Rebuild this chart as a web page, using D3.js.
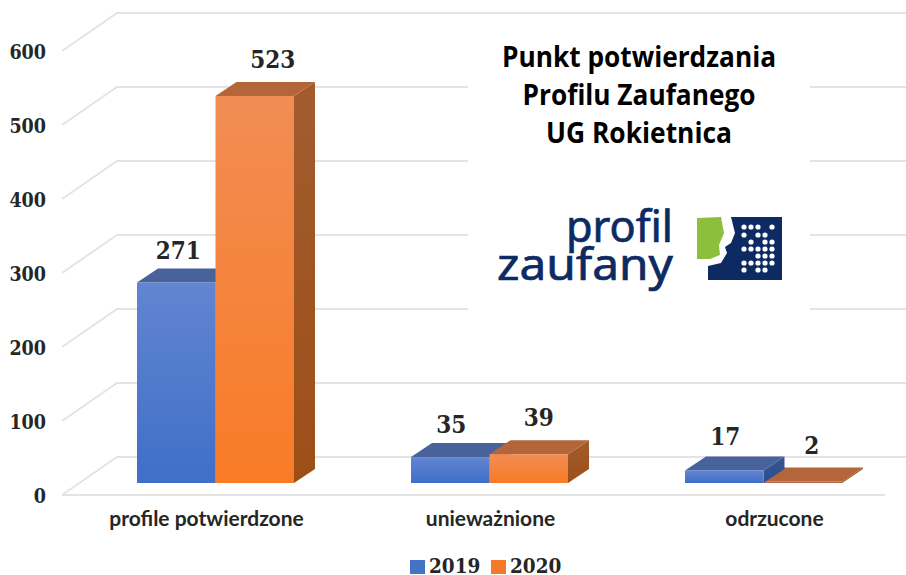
<!DOCTYPE html>
<html>
<head>
<meta charset="utf-8">
<script src="https://cdn.jsdelivr.net/npm/d3@7"></script>
<style>
  html, body { margin: 0; padding: 0; background: #fff; }
  svg { display: block; }
  .num { font-family: "DejaVu Serif", serif; font-weight: 700; font-stretch: condensed; fill: #262626; }
  .cat { font-family: Lato, sans-serif; font-weight: 700; fill: #262626; }
  .title { font-family: "Open Sans", sans-serif; font-weight: 700; fill: #000; }
</style>
</head>
<body>
<div id="chart"></div>
<script>
// Chart data
const categories = ["profile potwierdzone", "unieważnione", "odrzucone"];
const years = ["2019", "2020"];
const values2019 = [271, 35, 17];
const values2020 = [523, 39, 2];
const yTicks = [0, 100, 200, 300, 400, 500, 600];
const titleLines = ["Punkt potwierdzania", "Profilu Zaufanego", "UG Rokietnica"];
const titleWidths = [274, 233, 186];

const width = 906;
const height = 575;

const svg = d3.select("#chart").append("svg").attr("width", width).attr("height", height);

// Scales: yFloor is the front edge of the floor, yBar is where the bars stand
const yFloor = d3.scaleLinear().domain([0, 600]).range([495, 51]);
const yBar = d3.scaleLinear().domain([0, 600]).range([483, 39]);
const xGroup = d3.scaleBand().domain(categories).range([137, 959]);
const xBar = d3.scaleBand().domain(years).range([0, 157]);
const xLabel = d3.scalePoint().domain(categories).range([206, 774]);

const wallDx = 55, wallDy = -38; // depth of the chart walls
const barDx = 21, barDy = -14; // depth of one bar

const defs = svg.append("defs");
function addGradient(id, top, bottom) {
  const g = defs.append("linearGradient").attr("id", id).attr("x1", 0).attr("y1", 0).attr("x2", 0).attr("y2", 1);
  g.append("stop").attr("offset", "0%").attr("stop-color", top);
  g.append("stop").attr("offset", "100%").attr("stop-color", bottom);
}
addGradient("front2019", "#6285d0", "#3f6fc9");
addGradient("front2020", "#f18d54", "#f97b26");
addGradient("side2019", "#35548f", "#2b4f93");
addGradient("side2020", "#a25c30", "#9d4f17");

const barColors = {
  2019: { front: "url(#front2019)", side: "url(#side2019)", top: "#48639b" },
  2020: { front: "url(#front2020)", side: "url(#side2020)", top: "#b5653a" }
};

// Grid lines on the back wall and the side wall
const grid = svg.append("g").attr("stroke", "#e4e4e4").attr("stroke-width", 2).attr("fill", "none");
yTicks.forEach((t) => {
  const y = yFloor(t);
  grid.append("path").attr("d", `M62,${y}L${62 + wallDx},${y + wallDy}L906,${y + wallDy}`);
});
grid.append("line").attr("x1", 62).attr("x2", 885).attr("y1", yFloor(0)).attr("y2", yFloor(0));

// White panel under the title and logo
svg.append("rect").attr("x", 468).attr("y", 30).attr("width", 342).attr("height", 290).attr("fill", "#fff");

// Y axis
const yAxis = svg.append("g")
  .attr("transform", "translate(52,0)")
  .call(d3.axisLeft(yFloor).tickValues(yTicks).tickSize(0).tickFormat(d3.format("d")));
yAxis.select(".domain").remove();
yAxis.selectAll("text").attr("class", "num").attr("font-size", 19.5).attr("dy", "0.36em").attr("x", -6);

// X axis labels
const xAxis = svg.append("g")
  .attr("transform", "translate(0,526)")
  .call(d3.axisBottom(xLabel).tickSize(0));
xAxis.select(".domain").remove();
xAxis.selectAll("text").attr("class", "cat").attr("font-size", 21).attr("y", 0).attr("dy", 0);

// Bars, shorter one first in each group so the taller one overlaps it
const labelNudge = { 2019: [2, 1, 1], 2020: [18, 10, 9] };
const labelGap = { 2019: [9, 10, 11], 2020: [14, 14, 14] };
const rows = categories.map((c, i) => {
  const pair = [
    { cat: c, i, year: "2019", value: values2019[i] },
    { cat: c, i, year: "2020", value: values2020[i] }
  ];
  return pair.sort((a, b) => a.value - b.value);
});

const bars = svg.append("g");
rows.forEach((pair) => {
  pair.forEach((d) => {
    const x0 = xGroup(d.cat) + xBar(d.year);
    const x1 = x0 + xBar.bandwidth();
    const yTop = yBar(d.value);
    const yBase = yBar(0);
    const c = barColors[d.year];
    const g = bars.append("g").attr("class", "bar");
    g.append("path").attr("fill", c.side)
      .attr("d", `M${x1},${yTop}L${x1 + barDx},${yTop + barDy}L${x1 + barDx},${yBase + barDy}L${x1},${yBase}Z`);
    g.append("path").attr("fill", c.top)
      .attr("d", `M${x0},${yTop}L${x0 + barDx},${yTop + barDy}L${x1 + barDx},${yTop + barDy}L${x1},${yTop}Z`);
    // very low bars show no front gradient in the reference, only the top colour
    g.append("rect").attr("x", x0).attr("y", yTop).attr("width", x1 - x0).attr("height", yBase - yTop)
      .attr("fill", yBase - yTop < 2 ? c.top : c.front);
  });
});

// Value labels
rows.flat().forEach((d) => {
  svg.append("text")
    .attr("class", "num")
    .attr("font-size", 24)
    .attr("text-anchor", "middle")
    .attr("x", xGroup(d.cat) + xBar(d.year) + xBar.bandwidth() / 2 + labelNudge[d.year][d.i])
    .attr("y", yBar(d.value) + barDy - labelGap[d.year][d.i])
    .text(d.value);
});

// Legend
const legend = svg.append("g");
[[410, 429], [491, 510]].forEach((pos, i) => {
  legend.append("rect").attr("x", pos[0]).attr("y", 560).attr("width", 15).attr("height", 14)
    .attr("fill", i === 0 ? "#4472c4" : "#f5792a");
  legend.append("text").attr("class", "num").attr("font-size", 20.5)
    .attr("x", pos[1]).attr("y", 573).text(years[i]);
});

// Title
svg.append("g").selectAll("text").data(titleLines).enter().append("text")
  .attr("class", "title")
  .attr("font-size", 28)
  .attr("text-anchor", "middle")
  .attr("x", 639)
  .attr("y", (d, i) => 66.5 + i * 38.2)
  .attr("textLength", (d, i) => titleWidths[i])
  .attr("lengthAdjust", "spacingAndGlyphs")
  .text((d) => d);

// Logo
const navy = "#0d2b62";
const logo = svg.append("g");
[["profil", 242, 107], ["zaufany", 280, 176]].forEach(([word, baseline, w]) => {
  logo.append("text").attr("x", 673).attr("y", baseline).attr("text-anchor", "end")
    .attr("font-family", "Noto Sans, sans-serif").attr("font-size", 44).attr("fill", navy)
    .attr("stroke", navy).attr("stroke-width", 0.7)
    .attr("textLength", w).attr("lengthAdjust", "spacingAndGlyphs").text(word);
});
logo.append("path").attr("fill", "#8cc03c")
  .attr("d", "M697,218L721,217L724,233L719,245L720,255L710,259L697,259Z");
logo.append("path").attr("fill", navy)
  .attr("d", "M731,217L782,217L782,280L708,280L708,266L721,263L727,253L725,247L731,243L735,233Z");
const dotRows = ["11101", "10110", "01011", "11111", "00111", "11111", "10110"];
const dotX = [744, 751, 758, 765, 772];
const dotY = [227, 235, 242, 249, 256, 263, 270];
dotRows.forEach((row, r) => {
  row.split("").forEach((on, c) => {
    if (on === "1") logo.append("circle").attr("cx", dotX[c]).attr("cy", dotY[r]).attr("r", 2.6).attr("fill", "#fff");
  });
});
</script>
</body>
</html>
